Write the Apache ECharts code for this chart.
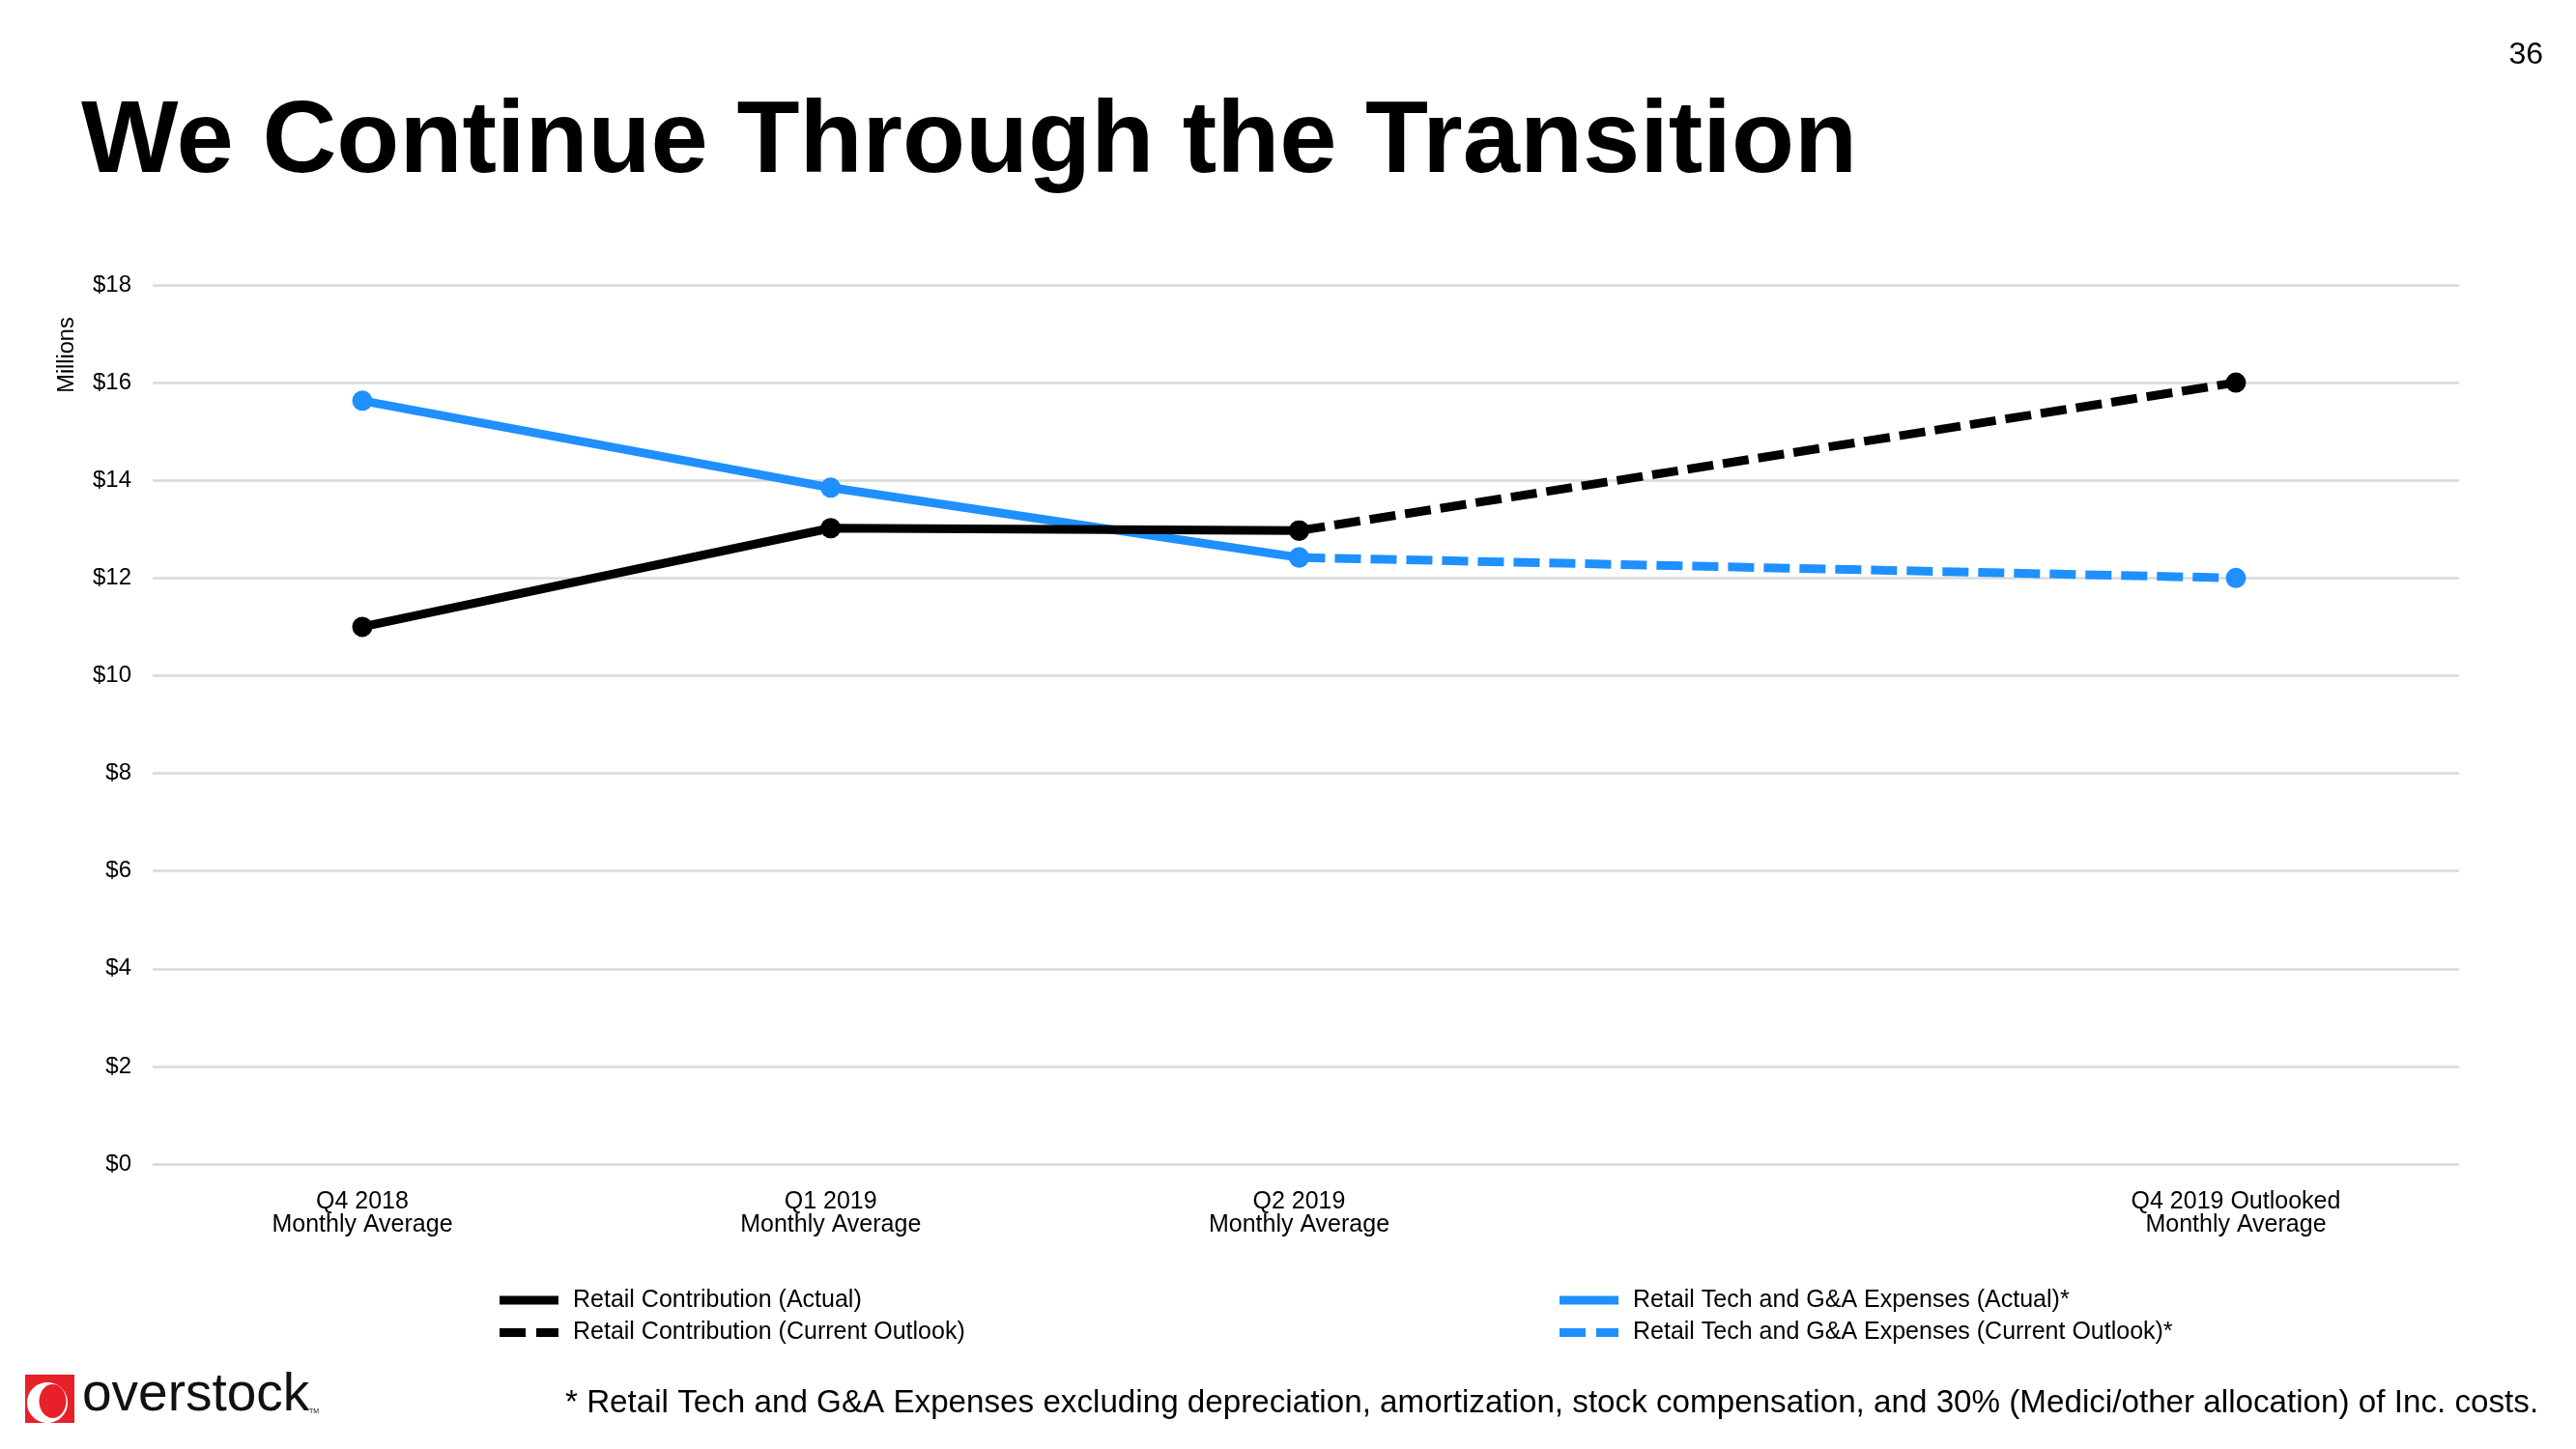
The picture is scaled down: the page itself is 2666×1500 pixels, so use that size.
<!DOCTYPE html>
<html>
<head>
<meta charset="utf-8">
<script src="https://cdn.jsdelivr.net/npm/echarts@6/dist/echarts.min.js"></script>
<style>
html,body{margin:0;padding:0;background:#fff;}
#chart{width:2666px;height:1500px;}
</style>
</head>
<body>
<div id="chart"></div>
<script>
const categories = ['Q4 2018\nMonthly Average', 'Q1 2019\nMonthly Average', 'Q2 2019\nMonthly Average', '', 'Q4 2019 Outlooked\nMonthly Average'];
const retailActual = [11.0, 13.02, 12.97, null, null];
const retailOutlook = [null, null, 12.97, null, 16.0];
const expensesActual = [15.63, 13.85, 12.42, null, null];
const expensesOutlook = [null, null, 12.42, null, 12.0];
const yTicks = [0, 2, 4, 6, 8, 10, 12, 14, 16, 18];

const seriesNames = [
  'Retail Contribution (Actual)',
  'Retail Contribution (Current Outlook)',
  'Retail Tech and G&A Expenses (Actual)*',
  'Retail Tech and G&A Expenses (Current Outlook)*'
];

const BLACK = '#000000';
const BLUE = '#1E90FF';
const FONT = "'Liberation Sans', Arial, sans-serif";
const DASH = [27, 10];
const dashIcon = 'path://M0,0H27V9H0Z M38,0H61V9H38Z';

const chart = echarts.init(document.getElementById('chart'), null, {renderer: 'canvas'});

const gridTop = 295, gridHeight = 910;

function lineSeries(name, data, color, dashed) {
  return {
    name: name,
    type: 'line',
    xAxisIndex: 1,
    yAxisIndex: 1,
    data: data,
    connectNulls: true,
    symbol: 'circle',
    symbolSize: 21,
    showAllSymbol: true,
    itemStyle: {color: color},
    lineStyle: {color: color, width: 9, type: dashed ? DASH : 'solid'},
    emphasis: {disabled: true},
    silent: true
  };
}

const legendCommon = {
  orient: 'vertical',
  itemWidth: 61,
  itemHeight: 9,
  itemGap: 8.6,
  padding: 0,
  selectedMode: false,
  textStyle: {fontFamily: FONT, fontSize: 25, color: '#000', lineHeight: 25, padding: [0, 0, 0, 10]}
};

chart.setOption({
  animation: false,
  backgroundColor: '#ffffff',
  grid: [
    {left: 158, width: 2387, top: gridTop, height: gridHeight},
    {left: 132.6, width: 2423.75, top: gridTop, height: gridHeight}
  ],
  xAxis: [
    {gridIndex: 0, type: 'value', show: false, min: 0, max: 1},
    {
      gridIndex: 1,
      type: 'category',
      data: categories,
      boundaryGap: true,
      axisLine: {show: false},
      axisTick: {show: false},
      splitLine: {show: false},
      axisLabel: {
        interval: 0,
        margin: 27,
        fontFamily: FONT,
        fontSize: 25,
        lineHeight: 24,
        color: '#000',
        align: 'center'
      }
    }
  ],
  yAxis: [
    {
      gridIndex: 0,
      type: 'value',
      min: yTicks[0],
      max: yTicks[yTicks.length - 1],
      interval: yTicks[1] - yTicks[0],
      axisLine: {show: false},
      axisTick: {show: false},
      axisLabel: {
        margin: 22,
        fontFamily: FONT,
        fontSize: 24,
        color: '#000',
        formatter: function (v) { return '$' + v; }
      },
      splitLine: {show: true, lineStyle: {color: '#d9d9d9', width: 2.5}}
    },
    {
      gridIndex: 1,
      type: 'value',
      min: yTicks[0],
      max: yTicks[yTicks.length - 1],
      show: false,
      splitLine: {show: false}
    }
  ],
  legend: [
    Object.assign({}, legendCommon, {
      left: 517,
      top: 1333.5,
      data: [
        {name: seriesNames[0], icon: 'rect'},
        {name: seriesNames[1], icon: dashIcon}
      ]
    }),
    Object.assign({}, legendCommon, {
      left: 1614,
      top: 1333.5,
      data: [
        {name: seriesNames[2], icon: 'rect'},
        {name: seriesNames[3], icon: dashIcon}
      ]
    })
  ],
  series: [
    lineSeries(seriesNames[2], expensesActual, BLUE, false),
    lineSeries(seriesNames[3], expensesOutlook, BLUE, true),
    lineSeries(seriesNames[0], retailActual, BLACK, false),
    lineSeries(seriesNames[1], retailOutlook, BLACK, true)
  ],
  graphic: [
    {
      type: 'text', x: 84, y: 149, silent: true,
      style: {text: 'We Continue Through the Transition', fill: '#000', font: 'bold 106.5px ' + FONT, align: 'left', verticalAlign: 'middle'}
    },
    {
      type: 'text', x: 2632, y: 57, silent: true,
      style: {text: '36', fill: '#000', font: '32px ' + FONT, align: 'right', verticalAlign: 'middle'}
    },
    {
      type: 'text', x: 70, y: 367.5, rotation: Math.PI / 2, silent: true,
      style: {text: 'Millions', fill: '#000', font: '23.5px ' + FONT, align: 'center', verticalAlign: 'middle'}
    },
    {
      type: 'text', x: 585, y: 1453, silent: true,
      style: {text: '* Retail Tech and G&A Expenses excluding depreciation, amortization, stock compensation, and 30% (Medici/other allocation) of Inc. costs.', fill: '#000', font: '33.2px ' + FONT, align: 'left', verticalAlign: 'middle'}
    },
    {
      type: 'group', silent: true,
      children: [
        {type: 'rect', shape: {x: 26, y: 1423, width: 51, height: 50}, style: {fill: '#e8202a'}},
        {type: 'ellipse', shape: {cx: 49, cy: 1452, rx: 21, ry: 21}, style: {fill: '#ffffff'}},
        {type: 'ellipse', shape: {cx: 54.5, cy: 1450.5, rx: 14, ry: 17.5}, style: {fill: '#e8202a'}},
        {type: 'text', x: 85, y: 1444.5, style: {text: 'overstock', fill: '#111', font: '55px ' + FONT, align: 'left', verticalAlign: 'middle'}},
        {type: 'text', x: 320, y: 1461, style: {text: 'TM', fill: '#111', font: '7px ' + FONT, align: 'left', verticalAlign: 'middle'}}
      ]
    }
  ]
});
</script>
</body>
</html>
